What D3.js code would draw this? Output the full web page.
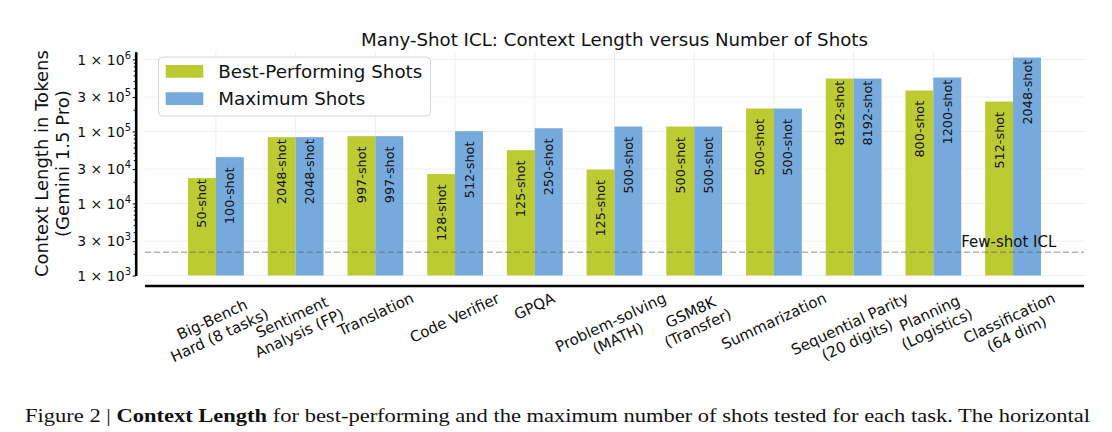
<!DOCTYPE html>
<html>
<head>
<meta charset="utf-8">
<script src="https://cdn.jsdelivr.net/npm/d3@7"></script>
<style>
  body { margin: 0; background: #fff; }
  svg text { font-family: "DejaVu Sans", sans-serif; fill: #111; }
</style>
</head>
<body>
<div id="chart"></div>
<script>
// Data
var categories = [
  "Big-Bench\nHard (8 tasks)", "Sentiment\nAnalysis (FP)", "Translation", "Code Verifier",
  "GPQA", "Problem-solving\n(MATH)", "GSM8K\n(Transfer)", "Summarization",
  "Sequential Parity\n(20 digits)", "Planning\n(Logistics)", "Classification\n(64 dim)"
];
var bestTokens = [22500, 83400, 86000, 25600, 55000, 29600, 117000, 208000, 543000, 370000, 260000];
var maxTokens  = [44000, 83400, 86000, 100700, 110800, 117000, 117000, 208000, 543000, 561000, 1062000];
var bestShots  = [50, 2048, 997, 128, 125, 125, 500, 500, 8192, 800, 512];
var maxShots   = [100, 2048, 997, 512, 250, 500, 500, 500, 8192, 1200, 2048];
var fewShotTokens = 2100;
var yTicks = [1e3, 3e3, 1e4, 3e4, 1e5, 3e5, 1e6];
var seriesNames = ["Best-Performing Shots", "Maximum Shots"];

var green = "#bccb32";
var blue = "#76aadc";

var svg = d3.select("#chart").append("svg")
  .attr("width", 1112)
  .attr("height", 432);

// scales
var xScale = d3.scaleLinear().domain([-0.89, 10.89]).range([145, 1084]);
var yScale = d3.scaleLog().domain([1000, 1.28e6]).range([275.5, 51.7]);
var barW = xScale(0.35) - xScale(0);

// grid
svg.append("g").selectAll("line")
  .data(yTicks)
  .enter().append("line")
  .attr("x1", 145).attr("x2", 1084)
  .attr("y1", d => yScale(d)).attr("y2", d => yScale(d))
  .attr("stroke", "#eeeeee").attr("stroke-width", 1);

svg.append("g").selectAll("line")
  .data(categories)
  .enter().append("line")
  .attr("x1", (d, i) => xScale(i)).attr("x2", (d, i) => xScale(i))
  .attr("y1", 51.7).attr("y2", 275.5)
  .attr("stroke", "#eeeeee").attr("stroke-width", 1);

// bars
var bars = svg.append("g");
bars.selectAll(".best")
  .data(bestTokens)
  .enter().append("rect")
  .attr("class", "best")
  .attr("x", (d, i) => xScale(i - 0.35))
  .attr("width", barW)
  .attr("y", d => yScale(d))
  .attr("height", d => yScale(1000) - yScale(d))
  .attr("fill", green);

bars.selectAll(".max")
  .data(maxTokens)
  .enter().append("rect")
  .attr("class", "max")
  .attr("x", (d, i) => xScale(i))
  .attr("width", barW)
  .attr("y", d => yScale(d))
  .attr("height", d => yScale(1000) - yScale(d))
  .attr("fill", blue);

// shot labels inside bars
function addShotLabels(tokens, shots, offset) {
  tokens.forEach(function(v, i) {
    var cx = xScale(i + offset);
    var top = yScale(v);
    var t = svg.append("text")
      .attr("font-size", "12.8px")
      .attr("dominant-baseline", "central")
      .text(shots[i] + "-shot");
    var len = t.node().getComputedTextLength();
    // short bars: label hangs from the bar top, otherwise it sits a fixed step below
    var start = (yScale(1000) - top) < 100 ? top + len + 1 : top + 67;
    t.attr("transform", `translate(${cx},${start}) rotate(-90)`);
  });
}
addShotLabels(bestTokens, bestShots, -0.175);
addShotLabels(maxTokens, maxShots, 0.175);

// few-shot reference line
svg.append("line")
  .attr("x1", 145).attr("x2", 1084)
  .attr("y1", yScale(fewShotTokens)).attr("y2", yScale(fewShotTokens))
  .attr("stroke", "#555").attr("stroke-opacity", 0.45)
  .attr("stroke-width", 1.5)
  .attr("stroke-dasharray", "6,3");

svg.append("text")
  .attr("x", xScale(9.35))
  .attr("y", yScale(fewShotTokens) - 5)
  .attr("font-size", "15px")
  .text("Few-shot ICL");

// y axis (offset spine)
var yAxis = d3.axisLeft(yScale).tickValues(yTicks).tickFormat("").tickSize(3).tickSizeOuter(0);
var yAxisG = svg.append("g")
  .attr("transform", "translate(135.7,0)")
  .call(yAxis);
yAxisG.select(".domain").attr("stroke", "#000").attr("stroke-width", 2.6);

var minorTicks = [];
[1e3, 1e4, 1e5].forEach(function(dec) {
  [2, 4, 5, 6, 7, 8, 9].forEach(function(m) { minorTicks.push(m * dec); });
});
var yMinor = d3.axisLeft(yScale).tickValues(minorTicks).tickFormat("").tickSize(2).tickSizeOuter(0);
var yMinorG = svg.append("g")
  .attr("transform", "translate(135.7,0)")
  .call(yMinor);
yMinorG.select(".domain").remove();

yTicks.forEach(function(v) {
  var exp = Math.floor(Math.log10(v) + 1e-9);
  var mant = Math.round(v / Math.pow(10, exp));
  var t = svg.append("text")
    .attr("x", 131)
    .attr("y", yScale(v) + 5.2)
    .attr("text-anchor", "end")
    .attr("font-size", "14px");
  t.append("tspan").text(mant + " × 10");
  t.append("tspan").attr("dy", -6).attr("font-size", "10px").text(exp);
});

// bottom spine (offset)
svg.append("line")
  .attr("x1", 145).attr("x2", 1084)
  .attr("y1", 286).attr("y2", 286)
  .attr("stroke", "#000").attr("stroke-width", 2.6);

// x tick labels, rotated
var rot = 25, rad = rot * Math.PI / 180;
categories.forEach(function(c, i) {
  var g = svg.append("g");
  var t = g.append("text")
    .attr("font-size", "15px")
    .attr("text-anchor", "middle");
  c.split("\n").forEach(function(line, k) {
    t.append("tspan").attr("x", 0).attr("dy", k === 0 ? 0 : 17.5).text(line);
  });
  var bb = t.node().getBBox();
  var cx = bb.x + bb.width / 2, cy = bb.y + bb.height / 2;
  var halfH = (bb.width * Math.sin(rad) + bb.height * Math.cos(rad)) / 2;
  g.attr("transform", `translate(${xScale(i)},${289 + halfH}) rotate(${-rot}) translate(${-cx},${-cy})`);
});

// y axis title
svg.append("text")
  .attr("transform", `translate(41,${(51.7 + 275.5) / 2}) rotate(-90)`)
  .attr("text-anchor", "middle")
  .attr("dominant-baseline", "central")
  .attr("font-size", "18px")
  .text("Context Length in Tokens");
svg.append("text")
  .attr("transform", `translate(62,${(51.7 + 275.5) / 2}) rotate(-90)`)
  .attr("text-anchor", "middle")
  .attr("dominant-baseline", "central")
  .attr("font-size", "18px")
  .text("(Gemini 1.5 Pro)");

// chart title
svg.append("text")
  .attr("x", (145 + 1084) / 2)
  .attr("y", 46)
  .attr("text-anchor", "middle")
  .attr("font-size", "18.2px")
  .text("Many-Shot ICL: Context Length versus Number of Shots");

// legend
var legend = svg.append("g");
legend.append("rect")
  .attr("x", 158.5).attr("y", 57)
  .attr("width", 272).attr("height", 59)
  .attr("rx", 4)
  .attr("fill", "#fff").attr("fill-opacity", 0.85)
  .attr("stroke", "#d6d6d6");
[green, blue].forEach(function(col, k) {
  legend.append("rect")
    .attr("x", 165.7).attr("y", 65 + k * 27.3)
    .attr("width", 37.6).attr("height", 12.7)
    .attr("fill", col);
  legend.append("text")
    .attr("x", 218.3).attr("y", 71.3 + k * 27.3)
    .attr("dominant-baseline", "central")
    .attr("font-size", "18.3px")
    .text(seriesNames[k]);
});

// caption
var cap = svg.append("text")
  .attr("x", 25).attr("y", 422)
  .attr("textLength", 1065)
  .attr("lengthAdjust", "spacingAndGlyphs")
  .style("font-family", "'Liberation Serif', serif")
  .attr("font-size", "19px");
cap.append("tspan").text("Figure 2 | ");
cap.append("tspan").attr("font-weight", "bold").text("Context Length");
cap.append("tspan").text(" for best-performing and the maximum number of shots tested for each task. The horizontal");
</script>
</body>
</html>
